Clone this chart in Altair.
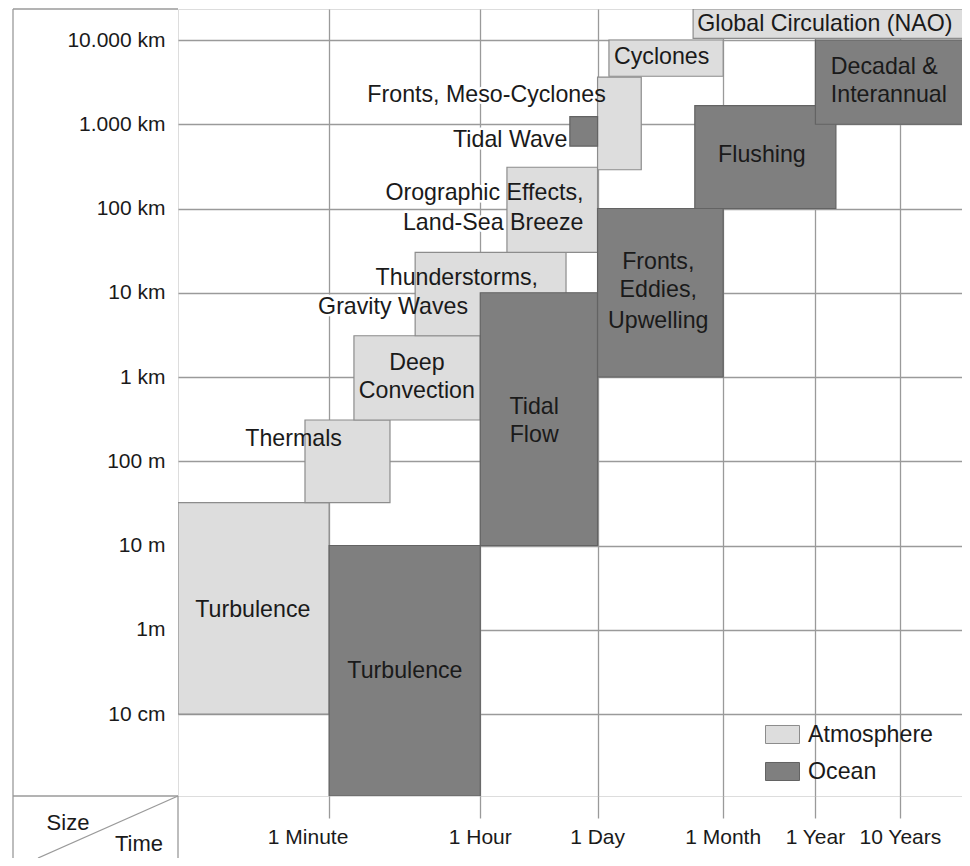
import altair as alt
import pandas as pd

# ---------------- data (time = log10 seconds, size = log10 metres) ----------------
box_name = ["Turbulence (atm)", "Thermals", "Deep Convection", "Thunderstorms, Gravity Waves",
            "Orographic Effects, Land-Sea Breeze", "Fronts, Meso-Cyclones", "Cyclones",
            "Global Circulation (NAO)",
            "Tidal Wave", "Turbulence (ocean)", "Tidal Flow", "Fronts, Eddies, Upwelling",
            "Flushing", "Decadal & Interannual"]
box_type = ["Atmosphere"] * 8 + ["Ocean"] * 6
box_t_start = [0.0, 1.494, 2.07, 2.79, 3.87, 4.936, 5.07, 6.06,
               4.61, 1.778, 3.556, 4.936, 6.08, 7.499]
box_t_end = [1.778, 2.494, 3.556, 4.565, 4.936, 5.45, 6.414, 9.3,
             4.936, 3.556, 4.936, 6.414, 7.74, 9.3]
box_s_start = [-1.0, 1.51, 2.49, 3.49, 4.48, 5.46, 6.57, 7.02,
               5.74, -1.973, 1.0, 3.0, 5.0, 6.0]
box_s_end = [1.51, 2.49, 3.49, 4.48, 5.49, 6.56, 7.0, 7.368,
             6.09, 1.0, 4.0, 5.0, 6.22, 7.0]

label_text = ["Turbulence", "Thermals", "Deep", "Convection", "Thunderstorms,", "Gravity Waves",
              "Orographic Effects,", "Land-Sea Breeze", "Fronts, Meso-Cyclones", "Cyclones",
              "Global Circulation (NAO)", "Tidal Wave", "Turbulence", "Tidal", "Flow",
              "Fronts,", "Eddies,", "Upwelling", "Flushing", "Decadal &", "Interannual"]
label_t = [0.88, 1.36, 2.81, 2.81, 3.28, 2.53, 4.77, 4.77, 3.63, 5.69, 7.61, 4.58,
           2.67, 4.19, 4.19, 5.65, 5.65, 5.65, 6.87, 7.68, 7.68]
label_s = [0.24, 2.26, 3.17, 2.83, 4.17, 3.83, 5.19, 4.83, 6.35, 6.80, 7.19, 5.81,
           -0.49, 2.65, 2.31, 4.36, 4.03, 3.67, 5.63, 6.68, 6.35]
label_align = (["center"] * 6 + ["right", "right"] + ["center"] * 3 + ["right"]
               + ["center"] * 7 + ["left", "left"])

time_ticks = [1.778, 3.556, 4.936, 6.414, 7.499, 8.499]
time_labels = ["1 Minute", "1 Hour", "1 Day", "1 Month", "1 Year", "10 Years"]
time_label_pos = [1.53, 3.556, 4.936, 6.414, 7.499, 8.499]

size_ticks = [-1, 0, 1, 2, 3, 4, 5, 6, 7]
size_labels = ["10 cm", "1m", "10 m", "100 m", "1 km", "10 km", "100 km", "1.000 km", "10.000 km"]

type_names = ["Atmosphere", "Ocean"]
type_colors = ["#dddddd", "#7f7f7f"]
type_strokes = ["#8c8c8c", "#636363"]

# ---------------- tables ----------------
boxes = pd.DataFrame({"name": box_name, "type": box_type, "t0": box_t_start,
                      "t1": box_t_end, "s0": box_s_start, "s1": box_s_end})
labels = pd.DataFrame({"text": label_text, "t": label_t, "s": label_s, "align": label_align})
tlabels = pd.DataFrame({"text": time_labels, "t": time_label_pos})

W, H = 784, 787
FONT = "Liberation Sans"
GRID = "#9a9a9a"
TEXT = "#1a1a1a"
BOX_FS = 23.2

x_scale = alt.Scale(domain=[0, 784 / 85.0], nice=False, zero=False)
y_scale = alt.Scale(domain=[-1.973, 7.368], nice=False, zero=False)

label_expr = "[" + ",".join("'%s'" % s for s in size_labels) + "][datum.value + 1]"

legend_shape = "M-1,-0.53L1,-0.53L1,0.53L-1,0.53Z"

rects = alt.Chart(boxes).mark_rect(strokeWidth=1.2, clip=True).encode(
    x=alt.X("t0:Q", scale=x_scale, title=None,
            axis=alt.Axis(values=time_ticks, labels=False, domain=False, grid=True,
                          gridColor=GRID, gridWidth=1.3, tickColor=GRID, tickWidth=1.3,
                          tickSize=22)),
    x2="t1:Q",
    y=alt.Y("s0:Q", scale=y_scale, title=None,
            axis=alt.Axis(values=size_ticks, labelExpr=label_expr, domain=False, ticks=False,
                          grid=True, gridColor=GRID, gridWidth=1.3, labelFontSize=21,
                          labelPadding=13, labelColor=TEXT, labelFont=FONT)),
    y2="s1:Q",
    fill=alt.Fill("type:N", scale=alt.Scale(domain=type_names, range=type_colors),
                  legend=alt.Legend(orient="none", legendX=587, legendY=708, title=None,
                                    symbolType=legend_shape, symbolSize=1156,
                                    labelFontSize=23.2, labelFont=FONT, labelColor=TEXT,
                                    labelOffset=8, rowPadding=8, padding=0,
                                    symbolStrokeColor="#8c8c8c", symbolStrokeWidth=1)),
    stroke=alt.Stroke("type:N", scale=alt.Scale(domain=type_names, range=type_strokes),
                      legend=None),
    order=alt.Order("idx:Q"),
).transform_window(idx="row_number()")


def text_layers(halo):
    out = []
    for al in ["center", "right", "left"]:
        kw = dict(align=al, baseline="middle", fontSize=BOX_FS, font=FONT)
        if halo:
            kw.update(fill="white", stroke="white", strokeWidth=5, strokeJoin="round")
        else:
            kw.update(fill=TEXT)
        out.append(
            alt.Chart(labels).transform_filter(alt.datum.align == al)
            .mark_text(**kw)
            .encode(x=alt.X("t:Q", scale=x_scale), y=alt.Y("s:Q", scale=y_scale), text="text:N")
        )
    return out


time_text = alt.Chart(tlabels).mark_text(
    align="center", baseline="middle", fontSize=21, font=FONT, fill=TEXT
).encode(x=alt.X("t:Q", scale=x_scale), y=alt.value(829), text="text:N")

one = alt.Data(values=[{"k": 1}])
frame_kw = dict(color=GRID, strokeWidth=1.3)
frame = [
    alt.Chart(one).mark_rule(**frame_kw).encode(x=alt.value(-165), y=alt.value(0), y2=alt.value(849)),
    alt.Chart(one).mark_rule(**frame_kw).encode(x=alt.value(-165), x2=alt.value(0), y=alt.value(0)),
    alt.Chart(one).mark_rule(**frame_kw).encode(x=alt.value(-165), x2=alt.value(0), y=alt.value(787)),
    alt.Chart(one).mark_rule(**frame_kw).encode(x=alt.value(0), y=alt.value(787), y2=alt.value(849)),
    alt.Chart(one).mark_rule(**frame_kw).encode(x=alt.value(0), y=alt.value(787),
                                                x2=alt.value(-140), y2=alt.value(849)),
    alt.Chart(one).mark_text(text="Size", align="center", baseline="middle", fontSize=22,
                             font=FONT, fill=TEXT).encode(x=alt.value(-110), y=alt.value(814)),
    alt.Chart(one).mark_text(text="Time", align="center", baseline="middle", fontSize=22,
                             font=FONT, fill=TEXT).encode(x=alt.value(-39), y=alt.value(835)),
]

chart = alt.layer(
    *text_layers(True), rects, *text_layers(False), time_text, *frame
).properties(
    width=W, height=H,
    autosize=alt.AutoSizeParams(type="none"),
    padding={"left": 170, "top": 1, "right": 0, "bottom": 62},
).configure_view(
    stroke=GRID, strokeWidth=1.3
).configure(font=FONT, background="white")

chart.save("out.html", embed_options={"renderer": "svg", "actions": False})
